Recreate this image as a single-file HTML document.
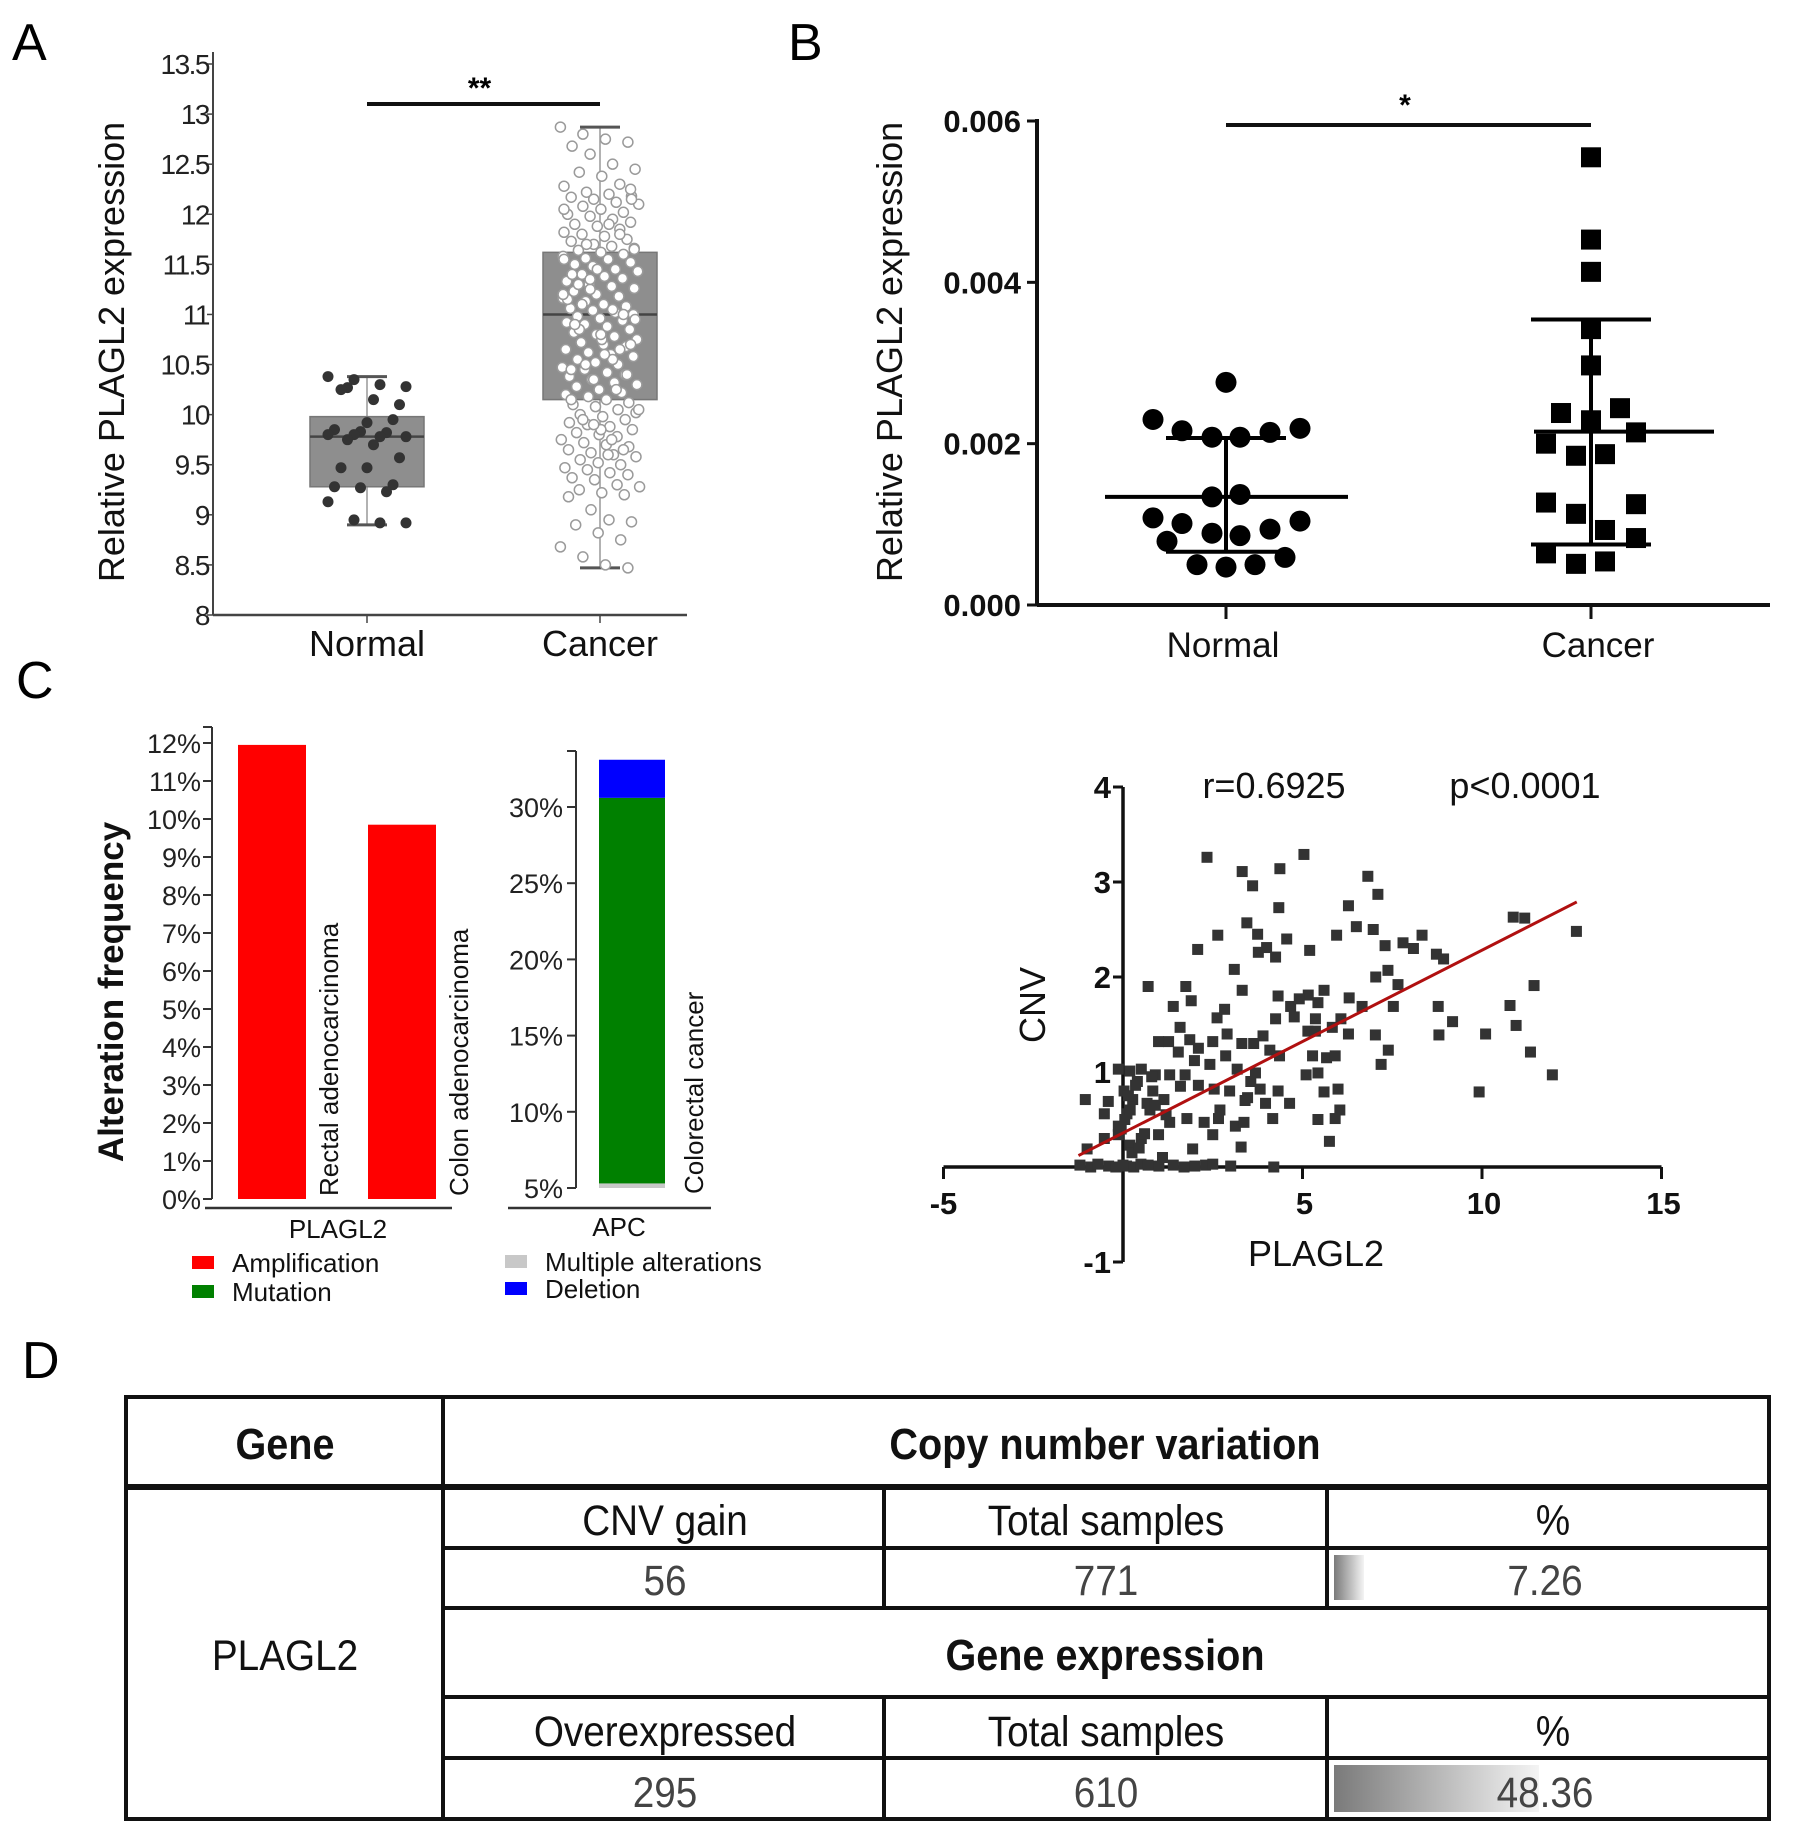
<!DOCTYPE html>
<html><head><meta charset="utf-8"><style>
html,body{margin:0;padding:0;background:#fff;}
svg{display:block;font-family:"Liberation Sans",Arial,sans-serif;}
</style></head><body>
<svg id="fig" width="1795" height="1847" viewBox="0 0 1795 1847">
<g font-size="52" fill="#000">
<text x="12" y="60">A</text>
<text x="788" y="60">B</text>
<text x="16" y="698">C</text>
<text x="22" y="1378">D</text>
</g>
<g id="pa"></g>
<g id="pb"></g>
<g id="pc"></g>
<g id="ps"></g>
<g id="pd"></g>
</svg>
<script>
// ---------- Panel A data ----------
const aTicks = [8,8.5,9,9.5,10,10.5,11,11.5,12,12.5,13,13.5];
const aGroups = ["Normal","Cancer"];
const aBoxNormal = [8.9,9.28,9.78,9.98,10.38];
const aBoxCancer = [8.47,10.15,11.0,11.62,12.87];
const aNormalVals = [10.38,10.35,10.3,10.28,10.27,10.15,10.1,10.25,9.92,9.95,9.85,9.83,9.82,9.8,9.8,9.78,9.78,9.75,9.7,9.57,9.47,9.47,9.3,9.28,9.27,9.23,9.13,8.95,8.92,8.92];
const aCancerVals = [12.87,12.8,12.75,12.72,12.68,12.6,12.5,12.45,12.42,12.38,12.3,12.28,12.22,12.2,12.18,12.17,12.15,12.12,12.1,12.08,12.05,12.02,12.0,11.98,11.95,11.92,11.9,11.88,11.85,11.82,11.8,11.78,11.75,11.73,11.7,11.68,11.66,11.64,11.62,11.6,11.58,11.56,11.55,11.52,11.5,11.48,11.45,11.43,11.4,11.38,11.36,11.33,11.3,11.28,11.26,11.23,11.2,11.18,11.16,11.13,11.1,11.08,11.06,11.04,11.02,11.0,10.98,10.96,10.94,10.92,10.9,10.88,10.85,10.82,10.8,10.78,10.75,10.72,10.7,10.68,10.65,10.62,10.6,10.58,10.55,10.52,10.5,10.47,10.45,10.42,10.4,10.38,10.35,10.32,10.3,10.28,10.25,10.22,10.2,10.18,10.15,10.12,10.1,10.08,10.05,10.02,10.0,9.98,9.95,9.92,9.9,9.88,9.85,9.82,9.8,9.78,9.75,9.72,9.7,9.68,9.65,9.62,9.6,9.58,9.55,9.52,9.5,9.47,9.45,9.42,9.4,9.37,9.35,9.3,9.28,9.25,9.22,9.2,9.18,9.05,8.95,8.93,8.9,8.82,8.75,8.68,8.58,8.5,8.47,
11.4,11.25,11.05,10.95,10.85,10.75,10.65,11.55,11.7,11.9,12.15,10.45,10.35,10.25,10.05,9.95,9.85,9.65,11.15,11.35,10.55,10.7,10.9,11.45,11.8,12.05,11.1,10.6,10.4,10.15,9.9,9.75,11.65,11.3,10.8,11.0,11.2,10.5,9.6,12.25];

function mk(tag, attrs, parent){const e=document.createElementNS("http://www.w3.org/2000/svg",tag);for(const k in attrs)e.setAttribute(k,attrs[k]);parent.appendChild(e);return e;}
function tx(parent,x,y,s,attrs){const e=mk("text",Object.assign({x:x,y:y},attrs||{}),parent);e.textContent=s;return e;}

(function(){
const g=document.getElementById('pa');
const y0=615, yTop=64, vMin=8, vMax=13.5;
const ay=v=>y0-(v-vMin)/(vMax-vMin)*(y0-yTop);
const gx=[367,600];
const axL=213;
let ax=mk('line',{x1:axL,y1:52,x2:axL,y2:y0,stroke:'#444','stroke-width':2},g);

let xl=mk('line',{x1:axL,y1:y0,x2:687,y2:y0,stroke:'#444','stroke-width':2.5},g);

aTicks.forEach(t=>{
  const l=mk('line',{x1:axL-6,y1:ay(t),x2:axL,y2:ay(t),stroke:'#444','stroke-width':1.5},g);
  
  const e=tx(g,axL-4,ay(t)+10,String(t),{'font-size':28,'text-anchor':'end',fill:'#222','letter-spacing':'-1.5'});
  
});
aGroups.forEach((n,i)=>{
  mk('line',{x1:gx[i],y1:y0,x2:gx[i],y2:y0+8,stroke:'#444','stroke-width':1.5},g);
  const e=tx(g,gx[i],y0+41,n,{'font-size':36,'text-anchor':'middle',fill:'#111'});
  
});
const yl=tx(g,0,0,'Relative PLAGL2 expression',{'font-size':36,'text-anchor':'middle',fill:'#111',transform:'translate(124,352) rotate(-90)'});

function box(b,cx,hw,name){
  const bg=mk('g',{},g);
  mk('line',{x1:cx,y1:ay(b[0]),x2:cx,y2:ay(b[4]),stroke:'#999','stroke-width':1.5},bg);
  mk('line',{x1:cx-20,y1:ay(b[0]),x2:cx+20,y2:ay(b[0]),stroke:'#555','stroke-width':3},bg);
  mk('line',{x1:cx-20,y1:ay(b[4]),x2:cx+20,y2:ay(b[4]),stroke:'#555','stroke-width':3},bg);
  mk('rect',{x:cx-hw,y:ay(b[3]),width:hw*2,height:ay(b[1])-ay(b[3]),fill:'#8e8e8e',stroke:'#777','stroke-width':1.5},bg);
  mk('line',{x1:cx-hw,y1:ay(b[2]),x2:cx+hw,y2:ay(b[2]),stroke:'#444','stroke-width':2.5},bg);
}
box(aBoxNormal,gx[0],57,'box-normal');
box(aBoxCancer,gx[1],57,'box-cancer');
aNormalVals.forEach((v,i)=>{
  const off=(((i*17)%13)-6)*6.5;
  const c=mk('circle',{cx:gx[0]+off,cy:ay(v),r:5.5,fill:'#333'},g);
  
});
aCancerVals.forEach((v,i)=>{
  const off=(((i*37)%29)-14)*2.7+(((i*11)%5)-2)*0.9;
  const c=mk('circle',{cx:gx[1]+off,cy:ay(v),r:5,fill:'#fff',stroke:'#9a9a9a','stroke-width':1.5},g);
  
});
const sb=mk('line',{x1:gx[0],y1:104,x2:gx[1],y2:104,stroke:'#111','stroke-width':4},g);

const st=tx(g,(gx[0]+gx[1])/2-4,98,'**',{'font-size':30,'font-weight':'bold','text-anchor':'middle'});

})();

// ---------- Panel B data ----------
const bTicks = [0,0.002,0.004,0.006];
const bTickLabels = ["0.000","0.002","0.004","0.006"];
const bGroups = ["Normal","Cancer"];
const bNormalVals = [0.00276,0.0023,0.00216,0.00208,0.00208,0.00214,0.00219,0.00134,0.00137,0.00108,0.00101,0.00089,0.00086,0.00094,0.00104,0.00079,0.00059,0.0005,0.00047,0.0005];
const bNormalOff = [0,-73,-44,-14,14,44,74,-14,14,-73,-44,-14,14,44,74,-59,59,-29,0,29];
const bCancerVals = [0.00555,0.00453,0.00413,0.00342,0.00297,0.00238,0.00244,0.00229,0.00214,0.002,0.00185,0.00187,0.00127,0.00125,0.00113,0.00093,0.00083,0.00064,0.00051,0.00054];
const bCancerOff = [0,0,0,0,0,-30,29,0,45,-45,-15,14,-45,45,-15,14,45,-45,-15,14];
const bNormalStats = [0.00134,0.00066,0.00207];
const bCancerStats = [0.00215,0.00075,0.00354];

(function(){
const g=document.getElementById('pb');
const y0=605,yT=121;
const by=v=>y0-v/0.006*(y0-yT);
const gx=[1226,1591];
const axL=1037;
let a=mk('line',{x1:axL,y1:yT-2,x2:axL,y2:y0,stroke:'#111','stroke-width':4},g);
a=mk('line',{x1:axL,y1:y0,x2:1770,y2:y0,stroke:'#111','stroke-width':4},g);
bTicks.forEach((t,i)=>{
  mk('line',{x1:axL-10,y1:by(t),x2:axL,y2:by(t),stroke:'#111','stroke-width':3},g);
  const e=tx(g,axL-16,by(t)+11,bTickLabels[i],{'font-size':31,'font-weight':'bold','text-anchor':'end',fill:'#111'});
  
});
bGroups.forEach((n,i)=>{
  mk('line',{x1:gx[i],y1:y0,x2:gx[i],y2:y0+14,stroke:'#111','stroke-width':3},g);
  const e=tx(g,gx[i]+(i?7:-3),y0+52,n,{'font-size':35,'text-anchor':'middle',fill:'#111'});
  
});
const yl=tx(g,0,0,'Relative PLAGL2 expression',{'font-size':36,'text-anchor':'middle',fill:'#111',transform:'translate(902,352) rotate(-90)'});

bNormalVals.forEach((v,i)=>{
  const c=mk('circle',{cx:gx[0]+bNormalOff[i],cy:by(v),r:10.5,fill:'#000'},g);
  
});
bCancerVals.forEach((v,i)=>{
  const c=mk('rect',{x:gx[1]+bCancerOff[i]-10,y:by(v)-10,width:20,height:20,fill:'#000'},g);
  
});
function stats(s,cx,l,r,name){
  const sg=mk('g',{stroke:'#000','stroke-width':4},g);
  mk('line',{x1:cx+l,y1:by(s[0]),x2:cx+r,y2:by(s[0])},sg);
  mk('line',{x1:cx,y1:by(s[1]),x2:cx,y2:by(s[2])},sg);
  mk('line',{x1:cx-60,y1:by(s[1]),x2:cx+60,y2:by(s[1])},sg);
  mk('line',{x1:cx-60,y1:by(s[2]),x2:cx+60,y2:by(s[2])},sg);
}
stats(bNormalStats,gx[0],-121,122,'mean-sd-normal');
stats(bCancerStats,gx[1],-57,123,'mean-sd-cancer');
const sb=mk('line',{x1:gx[0],y1:125,x2:gx[1],y2:125,stroke:'#111','stroke-width':4},g);

const st=tx(g,1405,115,'*',{'font-size':30,'font-weight':'bold','text-anchor':'middle'});

})();

// ---------- Panel C bar data ----------
const cTicksL = [0,1,2,3,4,5,6,7,8,9,10,11,12];
const cCats = ["Rectal adenocarcinoma","Colon adenocarcinoma"];
const cAmp = [11.95,9.85];
const cTicksR = [5,10,15,20,25,30];
const apcMulti = 0.3;
const apcMutation = 25.3;
const apcDeletion = 2.5;

(function(){
const g=document.getElementById('pc');
const y0=1199, py=38;
const cy=v=>y0-v*py;
let a=mk('line',{x1:212,y1:727,x2:212,y2:y0,stroke:'#333','stroke-width':2},g);
mk('line',{x1:203,y1:727,x2:212,y2:727,stroke:'#333','stroke-width':2},g);
cTicksL.forEach(t=>{
  mk('line',{x1:203,y1:cy(t),x2:212,y2:cy(t),stroke:'#333','stroke-width':2},g);
  const e=tx(g,201,cy(t)+10,t+'%',{'font-size':27,'text-anchor':'end',fill:'#222'});
  
});
const bx=[238,368];
cAmp.forEach((v,i)=>{
  const r=mk('rect',{x:bx[i],y:cy(v),width:68,height:y0-cy(v),fill:'#ff0000'},g);
  
  const e=tx(g,0,0,cCats[i],{'font-size':26,fill:'#111',transform:'translate('+(bx[i]+100)+',1196) rotate(-90)'});
  
});
a=mk('line',{x1:205,y1:1208,x2:452,y2:1208,stroke:'#333','stroke-width':2.5},g);
let e=tx(g,338,1238,'PLAGL2',{'font-size':26,'text-anchor':'middle',fill:'#111'});
const ylt=tx(g,0,0,'Alteration frequency',{'font-size':35,'font-weight':'bold','text-anchor':'middle',fill:'#111',transform:'translate(123,992) rotate(-90)'});

// APC
const y5=1188, pr=15.24;
const ry=v=>y5-(v-5)*pr;
a=mk('line',{x1:576,y1:751,x2:576,y2:y5,stroke:'#333','stroke-width':2},g);
mk('line',{x1:567,y1:751,x2:576,y2:751,stroke:'#333','stroke-width':2},g);
cTicksR.forEach(t=>{
  mk('line',{x1:567,y1:ry(t),x2:576,y2:ry(t),stroke:'#333','stroke-width':2},g);
  const e=tx(g,563,ry(t)+10,t+'%',{'font-size':27,'text-anchor':'end',fill:'#222'});
  
});
let s=5;
[[apcMulti,'#c8c8c8','segment-multiple'],[apcMutation,'#008000','segment-mutation'],[apcDeletion,'#0000ff','segment-deletion']].forEach(d=>{
  const r=mk('rect',{x:599,y:ry(s+d[0]),width:66,height:ry(s)-ry(s+d[0]),fill:d[1]},g);
  s+=d[0];
});
e=tx(g,0,0,'Colorectal cancer',{'font-size':26,fill:'#111',transform:'translate(703,1194) rotate(-90)'});
a=mk('line',{x1:508,y1:1208,x2:711,y2:1208,stroke:'#333','stroke-width':2.5},g);
e=tx(g,619,1236,'APC',{'font-size':26,'text-anchor':'middle',fill:'#111'});
// legend
[[192,1256,'#ff0000','Amplification'],[192,1285,'#008000','Mutation'],[505,1255,'#c8c8c8','Multiple alterations'],[505,1282,'#0000ff','Deletion']].forEach(d=>{
  const lg=mk('g',{},g);
  mk('rect',{x:d[0],y:d[1],width:22,height:13,fill:d[2]},lg);
  tx(lg,d[0]+40,d[1]+16,d[3],{'font-size':26,fill:'#111'});
});
})();

// ---------- Scatter data ----------
const sXTicks = [-5,5,10,15];
const sYTicks = [-1,1,2,3,4];
const sX = [2.34,5.04,3.32,4.37,3.61,6.82,7.1,4.34,6.28,2.64,3.45,3.75,4.56,2.08,5.2,5.95,6.5,6.97,7.3,7.8,8.09,8.33,8.73,8.93,10.87,11.19,12.63,3.77,4.0,4.25,3.1,0.7,1.75,3.32,1.9,2.62,2.83,1.4,4.32,5.16,5.6,5.43,6.3,6.66,7.04,7.38,7.66,7.53,11.45,8.78,9.18,8.8,10.78,10.1,10.95,11.35,11.96,9.92,7.19,7.39,7.03,6.28,6.07,5.83,5.15,4.77,4.67,4.25,3.9,3.64,4.09,4.36,3.31,2.9,2.5,2.1,1.86,1.59,0.99,1.27,1.54,1.99,2.42,2.86,3.18,3.56,3.82,3.47,2.97,2.54,2.1,1.73,1.3,0.9,0.51,0.19,-0.13,0.35,0.83,1.14,0.67,0.27,0.03,-0.41,-1.05,-0.52,0.11,0.75,1.3,1.78,2.26,2.66,3.13,3.37,2.5,1.94,3.29,0.99,0.51,-0.13,-0.52,-1.0,0.19,-0.13,4.17,4.64,3.97,4.32,3.69,5.1,5.43,5.6,5.99,6.04,5.91,5.43,5.75,5.28,5.67,5.91,5.36,4.91,5.36,
-1.2,-0.9,-0.7,-0.4,-0.2,0,0.1,0.3,0.5,0.7,1.0,1.4,1.7,2.0,2.3,2.5,3.0,4.2,0.05,0.2,0.4,0.15,-0.05,0.25,0.6,0.9,1.2,1.6,0.45,0.8,1.1,2.7,3.4];
const sY = [3.26,3.29,3.11,3.14,2.96,3.06,2.87,2.73,2.75,2.44,2.57,2.45,2.4,2.29,2.28,2.44,2.53,2.5,2.33,2.36,2.3,2.44,2.24,2.19,2.63,2.62,2.48,2.26,2.31,2.21,2.08,1.9,1.9,1.86,1.75,1.57,1.66,1.69,1.8,1.81,1.86,1.73,1.78,1.69,2.0,2.07,1.92,1.69,1.91,1.69,1.53,1.39,1.7,1.4,1.49,1.21,0.97,0.79,1.08,1.23,1.39,1.4,1.56,1.47,1.43,1.58,1.69,1.56,1.38,1.3,1.23,1.17,1.3,1.4,1.32,1.25,1.34,1.47,1.32,1.32,1.21,1.12,1.08,1.17,1.03,0.9,0.82,0.73,0.8,0.82,0.86,0.97,0.97,0.97,1.03,1.01,1.03,0.86,0.8,0.71,0.67,0.71,0.8,0.69,0.71,0.56,0.56,0.6,0.47,0.51,0.47,0.51,0.43,0.47,0.34,0.19,0.21,0.34,0.3,0.34,0.3,0.19,0.23,0.43,0.51,0.67,0.67,0.8,0.99,0.97,0.99,0.79,0.82,0.6,0.51,0.5,0.27,1.17,1.15,1.17,1.43,1.77,1.56,
0.02,0,0.03,0.01,0,0.02,0.01,0,0.03,0.02,0.01,0.02,0,0.01,0.02,0.03,0.01,0,0.5,0.6,0.9,0.75,0.4,0.15,0.35,0.65,0.55,0.85,0.2,0.95,0.1,0.6,0.7];
const sFitX = [-1.24,12.64];
const sFitY = [0.12,2.79];

(function(){
const g=document.getElementById('ps');
const X0=1123, PX=35.9, Y0=1167, PY=95;
const sx=v=>X0+v*PX, sy=v=>Y0-v*PY;
let a=mk('line',{x1:sx(0),y1:sy(4),x2:sx(0),y2:sy(-1),stroke:'#111','stroke-width':3.5},g);
a=mk('line',{x1:sx(-5),y1:Y0,x2:sx(15),y2:Y0,stroke:'#111','stroke-width':3.5},g);
sXTicks.forEach(t=>{
  mk('line',{x1:sx(t),y1:Y0,x2:sx(t),y2:Y0+12,stroke:'#111','stroke-width':3},g);
  const e=tx(g,sx(t)+(t<0?0:2),Y0+47,String(t),{'font-size':31,'font-weight':'bold','text-anchor':'middle',fill:'#111'});
  
});
sYTicks.forEach(t=>{
  mk('line',{x1:sx(0)-10,y1:sy(t),x2:sx(0),y2:sy(t),stroke:'#111','stroke-width':3},g);
  const e=tx(g,sx(0)-12,sy(t)+11,String(t),{'font-size':31,'font-weight':'bold','text-anchor':'end',fill:'#111'});
  
});
sX.forEach((v,i)=>{
  const r=mk('rect',{x:sx(v)-5.5,y:sy(sY[i])-5.5,width:11,height:11,fill:'#333'},g);
  
});
const fl=mk('line',{x1:sx(sFitX[0]),y1:sy(sFitY[0]),x2:sx(sFitX[1]),y2:sy(sFitY[1]),stroke:'#b01010','stroke-width':3},g);

let e=tx(g,1274,798,'r=0.6925',{'font-size':36,'text-anchor':'middle',fill:'#111'});
e=tx(g,1525,798,'p<0.0001',{'font-size':36,'text-anchor':'middle',fill:'#111'});
e=tx(g,0,0,'CNV',{'font-size':36,'text-anchor':'middle',fill:'#111',transform:'translate(1045,1005) rotate(-90)'});
e=tx(g,1316,1266,'PLAGL2',{'font-size':36,'text-anchor':'middle',fill:'#111'});
})();

// ---------- Panel D table ----------
(function(){
const g=document.getElementById('pd');
const L=126,R=1769,T=1397,B=1819;
const c1=443,c2=884,c3=1327;
const defs=mk('defs',{},g);
const lg=mk('linearGradient',{id:'grd',x1:0,y1:0,x2:1,y2:0},defs);
mk('stop',{offset:0,'stop-color':'#7a7a7a'},lg);mk('stop',{offset:1,'stop-color':'#f4f4f4'},lg);
const b1=mk('rect',{x:1334,y:1555,width:30,height:45,fill:'url(#grd)'},g);
const b2=mk('rect',{x:1334,y:1765,width:205,height:47,fill:'url(#grd)'},g);
const ls=mk('g',{stroke:'#111','stroke-width':4,fill:'none'},g);
mk('rect',{x:L,y:T,width:R-L,height:B-T},ls);
mk('line',{x1:L,y1:1487,x2:R,y2:1487,'stroke-width':6},ls);
mk('line',{x1:c1,y1:T,x2:c1,y2:B},ls);
[[1548],[1608],[1697],[1758]].forEach(r=>mk('line',{x1:c1,y1:r[0],x2:R,y2:r[0]},ls));
mk('line',{x1:c2,y1:1487,x2:c2,y2:1608},ls);mk('line',{x1:c3,y1:1487,x2:c3,y2:1608},ls);
mk('line',{x1:c2,y1:1697,x2:c2,y2:B},ls);mk('line',{x1:c3,y1:1697,x2:c3,y2:B},ls);
const cells=[
 [285,1459,'Gene',true,'header-gene'],
 [1105,1459,'Copy number variation',true,'header-cnv'],
 [665,1535,'CNV gain',false,'cell-cnv-gain'],
 [1106,1535,'Total samples',false,'cell-total-samples'],
 [1553,1535,'%',false,'cell-percent'],
 [665,1595,'56',false,'cell-56',true],
 [1106,1595,'771',false,'cell-771',true],
 [1545,1595,'7.26',false,'cell-7-26',true],
 [285,1670,'PLAGL2',false,'cell-plagl2'],
 [1105,1670,'Gene expression',true,'header-gene-expression'],
 [665,1746,'Overexpressed',false,'cell-overexpressed'],
 [1106,1746,'Total samples',false,'cell-total-samples-2'],
 [1553,1746,'%',false,'cell-percent-2'],
 [665,1807,'295',false,'cell-295',true],
 [1106,1807,'610',false,'cell-610',true],
 [1545,1807,'48.36',false,'cell-48-36',true]];
cells.forEach(c=>{
  const e=tx(g,c[0],c[1],c[2],{'font-size':c[3]?44:43,'text-anchor':'middle',fill:c[5]?'#444':'#111','font-weight':c[3]?'bold':'normal',transform:'translate('+c[0]+',0) scale(0.9,1) translate('+(-c[0])+',0)'});
  
});
})();
</script>
</body></html>
